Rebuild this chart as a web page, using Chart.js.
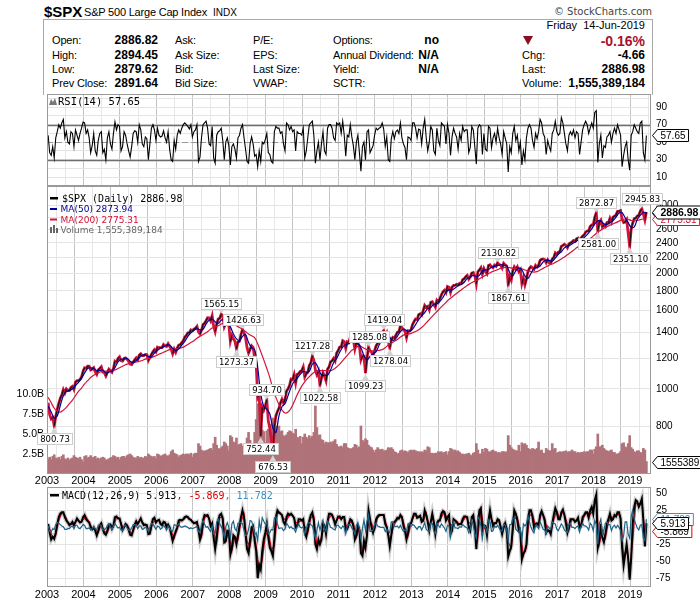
<!DOCTYPE html>
<html><head><meta charset="utf-8">
<script src="https://cdn.jsdelivr.net/npm/chart.js@4.4.1/dist/chart.umd.min.js"></script>
<style>
html,body{margin:0;padding:0;background:#fff;}
body{width:700px;height:603px;position:relative;overflow:hidden;font-family:"Liberation Sans",Arial,sans-serif;color:#000;}
canvas{position:absolute;left:0;}
</style></head><body>
<div style="position:absolute;left:43px;top:19px;width:608px;height:75px;border:1px solid #aaa;border-bottom:none;"></div>
<div style="position:absolute;left:523px;top:36px;width:0;height:0;border-left:5px solid transparent;border-right:5px solid transparent;border-top:9px solid #8b0d1f;"></div>
<canvas id="rsi" width="700" height="92" style="top:94px"></canvas>
<canvas id="price" width="700" height="302" style="top:186px"></canvas>
<canvas id="macd" width="700" height="116" style="top:487px"></canvas>
<script>
// ---------- DATA (semi-monthly: mid-month and month-end, Jan 2003 .. 14 Jun 2019) ----------
const yearLabels = ['2003','2004','2005','2006','2007','2008','2009','2010','2011','2012','2013','2014','2015','2016','2017','2018','2019'];

const price = [
920,856,835,841,800.73,848,885,916,945,964,995,975,1000,990,990,1008,1015,996,1040,1050,1050,1058,1075,1112,
1135,1131,1145,1145,1120,1126,1135,1107,1090,1121,1130,1141,1105,1102,1080,1104,1125,1115,1105,1130,1180,1174,1200,1212,
1185,1181,1200,1204,1195,1180,1160,1157,1175,1191,1205,1191,1225,1234,1220,1220,1230,1229,1185,1207,1230,1249,1265,1248,
1285,1280,1280,1281,1305,1295,1290,1311,1290,1270,1235,1270,1245,1277,1300,1304,1320,1336,1365,1378,1400,1401,1425,1418,
1430,1438,1455,1407,1390,1421,1470,1482,1505,1531,1530,1503,1550,1455,1410,1474,1520,1527,1565.15,1549,1450,1481,1480,1468,
1330,1378,1350,1330,1273.37,1323,1330,1386,1426.63,1400,1360,1280,1240,1267,1295,1283,1200,1166,950,969,752.44,896,880,903,
934.70,826,790,735,676.53,798,850,873,890,919,940,919,940,987,1000,1021,1060,1057,1090,1036,1090,1096,1110,1115,
1140,1074,1095,1104,1150,1169,1217.28,1187,1120,1089,1110,1022.58,1065,1102,1080,1049,1125,1141,1175,1183,1200,1181,1240,1258,
1285,1286,1335,1327,1275,1326,1320,1364,1340,1345,1270,1321,1315,1292,1190,1219,1215,1099.23,1200,1285.08,1255,1247,1220,1258,
1295,1312,1350,1366,1400,1419.04,1370,1398,1330,1278.04,1340,1362,1355,1379,1405,1407,1460,1441,1430,1412,1360,1416,1415,1426,
1470,1498,1520,1515,1560,1569,1555,1598,1650,1631,1640,1606,1680,1686,1660,1633,1700,1682,1720,1757,1790,1806,1780,1848,
1840,1783,1840,1859,1860,1872,1865,1884,1880,1924,1935,1960,1975,1931,1955,2003,2010,1972,1880,2018,2040,2068,1990,2059,
2020,1995,2095,2105,2080,2068,2100,2086,2130.82,2107,2100,2063,2125,2104,2090,1867.61,1960,1920,2030,2079,2050,2080,2020,2044,
1880,1940,1865,1932,2020,2060,2080,2065,2050,2097,2075,2099,2160,2174,2180,2171,2130,2168,2130,2126,2180,2199,2260,2239,
2270,2279,2350,2364,2380,2363,2330,2384,2400,2412,2435,2423,2460,2470,2430,2472,2500,2519,2560,2575,2580,2648,2675,2674,
2800,2872.87,2581.00,2714,2750,2641,2670,2648,2710,2705,2780,2718,2800,2816,2840,2902,2905,2914,2770,2711,2720,2760,2545,2351.10,
2610,2704,2775,2784,2820,2834,2905,2945.83,2850,2752,2886.98];

// monthly (mid-month) moving averages
const ma50 = [
900,870,840,850,905,960,985,990,1000,1020,1040,1065,
1100,1130,1135,1130,1115,1115,1120,1100,1105,1115,1135,1175,
1195,1195,1200,1180,1170,1185,1205,1225,1225,1215,1210,1240,
1260,1275,1285,1300,1300,1275,1260,1270,1300,1330,1370,1400,
1420,1435,1425,1430,1475,1510,1520,1495,1480,1510,1510,1480,
1450,1390,1350,1335,1370,1385,1320,1280,1265,1140,970,900,
885,860,790,770,850,900,915,960,1010,1045,1065,1090,
1110,1105,1110,1160,1170,1130,1085,1085,1085,1120,1170,1200,
1245,1285,1305,1310,1330,1320,1310,1280,1220,1190,1215,1235,
1250,1300,1350,1385,1385,1345,1340,1370,1410,1430,1420,1410,
1430,1470,1515,1550,1580,1620,1630,1660,1665,1690,1730,1785,
1810,1810,1830,1855,1870,1895,1940,1955,1975,1960,1975,2030,
2040,2045,2075,2085,2095,2105,2100,2090,2010,1970,2030,2065,
2040,1970,1940,2000,2060,2070,2090,2140,2165,2160,2150,2190,
2240,2275,2330,2355,2370,2400,2425,2450,2460,2500,2550,2610,
2690,2740,2735,2690,2680,2710,2740,2800,2870,2875,2790,2710,
2630,2640,2760,2830,2880,2873.94];

const ma200 = [
950,920,890,875,870,880,895,915,935,960,985,1005,
1030,1050,1070,1085,1095,1105,1110,1112,1115,1118,1120,1130,
1140,1150,1160,1165,1170,1175,1180,1185,1195,1200,1205,1215,
1225,1235,1245,1255,1265,1270,1272,1275,1280,1290,1305,1320,
1335,1355,1370,1385,1400,1420,1440,1450,1460,1475,1485,1490,
1485,1475,1460,1445,1430,1410,1390,1375,1360,1310,1250,1190,
1130,1070,1000,950,910,880,865,870,890,925,965,1000,
1030,1055,1075,1095,1110,1115,1115,1115,1115,1115,1125,1140,
1160,1185,1210,1235,1260,1275,1290,1290,1275,1265,1260,1255,
1255,1260,1265,1280,1300,1315,1330,1345,1365,1380,1385,1390,
1400,1410,1425,1445,1470,1500,1530,1560,1590,1620,1650,1680,
1710,1735,1760,1785,1810,1835,1860,1880,1900,1915,1935,1955,
1975,1995,2015,2030,2045,2060,2070,2075,2070,2060,2060,2060,
2055,2040,2030,2020,2015,2020,2040,2060,2080,2100,2115,2135,
2155,2180,2205,2235,2265,2295,2330,2360,2390,2420,2450,2480,
2520,2560,2590,2620,2645,2670,2690,2710,2735,2760,2770,2765,
2745,2740,2745,2760,2770,2775.31];

// volume, billions of shares (semi-monthly)
const volumeB = [
1.9,2.1,1.8,2.2,2.4,2.0,1.9,2.1,1.8,2.2,2.4,1.9,1.8,2.0,1.7,1.9,2.0,2.3,2.1,2.0,1.9,2.1,1.8,1.5,
2.2,2.3,2.0,2.1,2.3,2.0,2.1,2.2,1.9,2.0,1.8,2.0,2.1,2.0,1.7,1.8,1.9,2.0,2.1,2.3,2.2,2.0,2.1,1.8,
2.1,2.2,2.2,2.0,2.3,2.4,2.5,2.3,2.1,2.0,2.0,2.2,2.0,2.1,2.0,2.0,2.2,2.1,2.5,2.3,2.2,2.1,2.2,1.9,
2.5,2.4,2.2,2.3,2.4,2.5,2.3,2.2,2.4,2.8,3.0,2.6,2.5,2.4,2.1,2.3,2.4,2.5,2.4,2.5,2.5,2.4,2.6,2.1,
2.5,2.6,2.6,3.8,3.5,3.0,2.8,2.9,2.9,3.0,3.1,3.2,3.0,3.8,4.6,3.6,3.2,3.1,3.3,3.5,4.0,3.8,3.5,2.9,
4.8,4.6,4.0,3.9,4.5,3.6,3.7,3.8,3.5,3.4,3.8,4.5,5.2,4.2,3.7,3.6,5.2,6.8,8.8,6.5,7.2,5.5,5.3,3.9,
5.4,5.6,5.5,6.2,7.0,6.2,6.0,5.8,6.0,5.3,5.4,4.8,4.7,4.9,5.2,5.4,5.3,5.1,5.0,5.6,4.6,4.5,4.7,3.8,
4.6,5.0,4.6,4.4,4.8,4.5,4.7,5.2,8.5,5.8,4.8,4.9,4.3,4.2,3.8,4.0,3.9,3.9,4.0,3.9,4.1,4.3,3.7,3.4,
3.4,3.5,3.3,3.8,3.8,3.3,3.2,3.1,3.2,3.3,3.7,3.6,3.2,3.4,6.0,4.2,4.0,4.4,4.2,3.6,3.4,3.3,3.0,2.7,
3.0,3.3,3.1,3.0,3.1,2.9,2.9,3.0,3.3,3.2,3.3,3.1,2.8,2.7,2.5,2.6,2.9,3.0,2.8,2.9,2.8,2.6,2.9,3.0,
2.9,3.0,2.9,2.8,2.8,2.7,2.8,2.7,3.0,2.9,3.4,3.3,2.6,2.6,2.5,2.6,2.6,2.8,2.7,2.8,2.6,2.7,2.8,2.4,
2.8,3.2,3.1,2.9,3.0,2.8,2.9,2.7,2.5,2.5,2.4,2.5,2.5,2.6,2.4,2.3,2.6,2.7,3.8,3.0,2.5,2.5,3.1,2.7,
3.2,3.1,2.8,2.7,2.9,3.0,2.8,2.8,2.6,2.7,2.6,2.8,2.8,2.7,2.8,4.8,3.6,3.3,3.1,3.0,2.9,2.9,3.6,2.8,
3.9,3.7,3.8,3.6,3.2,3.1,3.0,3.2,3.1,3.0,3.2,4.0,2.9,3.0,2.6,2.6,3.2,3.0,2.9,2.9,3.8,3.1,3.2,2.6,
2.7,2.8,2.7,2.8,2.8,2.9,2.7,2.8,2.8,3.0,2.8,2.8,2.6,2.7,2.6,2.7,2.7,2.8,2.7,2.8,2.8,3.0,3.0,2.5,
3.1,3.4,5.0,3.4,3.4,3.6,3.2,3.0,2.9,2.8,2.9,3.0,2.7,2.7,2.5,2.5,2.6,2.8,3.8,3.9,3.4,3.3,3.8,4.8,
3.3,3.1,2.8,2.7,2.9,2.9,2.7,2.6,3.2,3.0,1.555389184];

const rsi = [
58,38,35,45,32,55,62,70,66,72,76,55,62,50,48,62,60,45,64,58,52,60,66,73,
72,60,64,55,38,46,60,40,35,52,60,62,38,42,30,55,62,48,42,60,73,64,70,68,
40,45,62,58,48,40,33,45,60,63,62,50,70,64,48,45,56,54,30,48,66,70,64,52,
66,58,56,57,63,55,50,62,42,30,28,52,42,58,64,60,66,70,72,70,68,65,70,56,
62,64,70,28,33,55,70,72,74,66,48,46,68,32,26,58,62,63,66,52,30,50,55,46,
24,45,48,42,32,55,58,66,70,55,42,28,26,48,56,48,34,36,22,40,28,50,48,53,
60,38,36,28,26,62,68,66,66,60,62,48,40,72,70,64,68,62,64,40,62,60,60,58,
66,32,40,55,70,72,74,58,26,40,50,30,48,62,40,36,66,70,70,66,55,52,72,70,
72,60,74,58,34,58,56,70,56,46,30,50,58,38,17,45,50,30,62,64,38,42,46,58,
66,64,66,67,72,65,45,56,30,28,54,62,54,62,64,60,72,55,48,44,30,56,55,52,
72,72,66,55,65,64,48,66,76,55,40,50,68,64,40,36,66,52,46,72,70,68,48,70,
60,35,56,66,60,56,42,60,52,68,62,64,64,38,44,68,64,45,25,66,70,68,36,60,
42,40,68,66,44,55,60,50,66,55,48,36,62,55,48,16,45,38,60,68,52,58,40,50,
24,40,30,55,66,70,66,52,44,60,54,62,76,72,60,56,36,52,45,40,60,64,74,62,
58,60,78,72,60,48,40,58,62,58,64,55,62,60,36,50,64,70,74,70,60,66,72,66,
84,86,27,48,58,32,46,44,56,58,62,50,60,66,60,70,64,58,22,35,45,50,30,18,
58,62,70,66,62,60,72,74,38,30,57.65];

const macd = [
5,-8,-18,-14,-17,-8,5,15,20,22,22,15,10,7,3,5,8,3,8,13,10,7,8,15,
18,12,9,7,0,-3,0,-5,-12,-5,3,6,-3,-9,-11,-5,4,4,-2,3,15,16,13,13,
5,-4,0,5,3,-4,-11,-12,-4,4,9,5,9,13,7,3,4,3,-10,-9,3,12,14,7,
10,11,5,3,8,7,0,4,0,-10,-20,-12,-6,0,10,11,10,12,15,16,15,12,11,8,
6,7,8,-4,-18,-10,10,18,17,18,13,2,6,-15,-32,-15,10,18,20,12,-22,-20,-5,-6,
-40,-30,-12,-15,-25,-12,2,15,25,15,-10,-32,-38,-18,0,2,-20,-35,-75,-55,-62,-35,-18,-8,
5,-15,-30,-35,-42,-15,15,25,22,20,18,8,4,15,20,18,20,17,14,0,2,12,12,10,
12,-8,-14,-3,10,18,22,10,-25,-32,-18,-25,-18,5,3,-10,8,20,20,18,12,4,10,16,
16,12,15,15,-5,-2,5,12,10,2,-18,-12,2,-4,-38,-42,-20,-30,-12,25,12,0,-8,0,
12,16,18,18,18,18,5,0,-12,-28,-12,5,8,10,14,13,18,15,2,-5,-18,-8,5,6,
14,20,20,14,15,17,8,10,25,18,8,-5,8,20,8,-10,5,10,10,20,24,22,10,15,
18,-10,-5,12,10,8,4,5,5,12,16,16,15,0,-5,15,18,0,-32,0,25,28,-5,3,
2,-12,10,25,12,2,6,6,12,10,0,-10,0,6,-2,-43,-35,-28,0,25,20,10,-5,-8,
-47,-38,-35,-25,10,25,25,15,0,5,6,3,18,24,18,10,-8,-4,-5,-10,5,18,28,22,
12,12,22,26,18,6,-8,0,12,12,12,8,10,14,0,2,15,18,22,22,14,25,30,20,
40,48,-30,-20,5,-15,-22,-10,5,12,20,10,12,18,16,22,22,12,-30,-56,-40,-25,-45,-77,
-45,5,30,40,38,30,35,42,10,-28,5.913];

// monthly (month-end) signal line
const signal = [
-2,-16,-12,10,21,18,8,4,5,10,8,11,
15,8,-2,-2,-8,4,-6,-8,4,0,15,13,
0,2,0,-11,0,7,11,5,3,-9,7,10,
10,4,7,2,-5,-16,-3,10,11,15,13,9,
6,2,-14,14,17,7,-4,-23,14,16,-21,-5,
-35,-13,-18,8,20,-21,-28,1,-27,-65,-48,-13,
-5,-32,-28,20,21,13,10,19,18,7,7,11,
2,-8,14,16,-28,-21,-6,-3,14,19,8,13,
14,15,-3,8,6,-15,-1,-40,-25,6,6,-4,
14,18,18,2,-20,-3,9,13,16,-1,-13,5,
17,17,16,9,21,1,14,-1,7,15,23,12,
4,3,9,4,8,16,7,5,9,-16,26,-1,
-5,17,7,6,11,-5,3,-22,-31,12,15,-6,
-42,-30,17,20,2,4,21,14,-6,-7,11,25,
12,24,12,-4,12,10,12,1,16,22,19,25,
44,-25,-5,-16,8,15,15,19,17,-43,-32,-61,
-20,35,34,38,-9,-5.869];

const histogram = [
2,-6,-7,-2,-3,4,7,6,4,2,1,-3,-3,-2,-2,1,2,-2,3,3,-1,-2,1,4,
3,-2,-2,-1,-4,-2,1,-2,-4,3,4,2,-4,-3,-2,3,5,1,-3,2,6,2,-1,0,
-4,-5,2,3,-1,-4,-4,-1,4,4,3,-2,2,2,-3,-2,0,-1,-6,0,6,5,1,-3,
2,1,-3,-1,3,0,-4,2,-2,-5,-6,4,3,3,5,1,0,1,2,1,0,-2,-1,-2,
-1,0,1,-6,-8,4,10,5,0,1,-3,-6,2,-10,-9,8,12,5,1,-4,-15,1,7,0,
-15,5,9,-2,-5,6,7,7,5,-5,-12,-11,-3,10,9,1,-11,-8,-20,10,-4,14,9,5,
7,-10,-8,-3,-4,14,15,5,-2,-1,-1,-5,-2,6,3,-1,1,-2,-2,-7,1,5,0,-1,
1,-10,-3,6,7,4,2,-6,-17,-4,7,-4,4,11,-1,-6,9,6,0,-1,-3,-4,3,3,
0,-2,2,0,-10,2,4,4,-1,-4,-10,3,7,-3,-17,-2,11,-5,9,18,-6,-6,-4,4,
6,2,1,0,0,0,-6,-3,-6,-8,8,8,2,1,2,-1,3,-2,-6,-4,-6,5,6,1,
4,3,0,-3,1,1,-4,1,7,-3,-5,-6,6,6,-6,-9,7,3,0,5,2,-1,-6,3,
2,-14,3,8,-1,-1,-2,1,0,4,2,0,-1,-8,-3,10,2,-9,-16,16,12,2,-16,4,
0,-7,11,8,-6,-5,2,0,3,-1,-5,-5,5,3,-4,-20,4,4,14,12,-3,-5,-8,-2,
-20,5,2,5,17,8,0,-5,-8,3,1,-2,8,3,-3,-4,-9,2,-1,-3,8,6,5,-3,
-5,0,5,2,-4,-6,-7,4,6,0,0,-2,1,2,-7,1,6,2,2,0,-4,6,3,-5,
10,4,-25,5,12,-10,-4,6,8,4,4,-5,1,3,-1,3,0,-5,-20,-13,8,8,-10,-16,
16,25,12,5,-1,-4,3,4,-16,-19,11.782];

// axis ticks and reference levels
const priceTicks = [800,1000,1200,1400,1600,1800,2000,2200,2400,2600,2800,3000];
const volumeTicks = [2.5,5,7.5,10];
const rsiGrid = [0,10,20,30,40,50,60,70,80,90,100];
const rsiTickLabels = [10,30,50,70,90];
const rsiLevels = [30,50,70];
const macdTicks = [-75,-50,-25,0,25,50];

// annotated turning points (indices into price) and label side
const annIdx = [4,114,124,128,140,144,148,174,179,209,211,221,225,296,303,361,362,383,391];
const annPos = ['below','above','below','above','below','above','below','above','below','below','above','above','below','above','below','above','below','below','above'];

// ---------- header text ----------
const SANS = '"Liberation Sans", Arial, sans-serif';
const MONO = '"DejaVu Sans Mono", monospace';
const DJV = '"DejaVu Sans", sans-serif';
function txt(s, x, base, o) {
  o = o || {};
  const d = document.createElement('div');
  const size = o.size || 11;
  d.textContent = s;
  d.style.cssText = 'position:absolute;white-space:nowrap;line-height:1;font-size:' + size + 'px;font-family:' + (o.fam || SANS) +
    ';font-weight:' + (o.bold ? 'bold' : 'normal') + ';color:' + (o.color || '#000') + ';top:' + (base - 0.8465 * size) + 'px;' +
    (o.right ? 'right:' + (700 - x) + 'px;' : 'left:' + x + 'px;') + (o.ls ? 'letter-spacing:' + o.ls + 'px;' : '');
  document.body.appendChild(d);
}
txt('$SPX', 44, 16.7, {size:15, bold:true});
txt('S&P 500 Large Cap Index', 84, 16.7, {size:11, ls:-0.2});
txt('INDX', 213, 16.7, {size:10});
txt('\u00A9 StockCharts.com', 652, 15.5, {size:10, fam:DJV, right:true, color:'#444'});
txt('Friday\u00A0\u00A014-Jun-2019', 645, 29.5, {right:true});
const rows = [44.3, 59, 73.5, 87.5];
[['Open:','2886.82','Ask:','P/E:','Options:','no'],
 ['High:','2894.45','Ask Size:','EPS:','Annual Dividend:','N/A'],
 ['Low:','2879.62','Bid:','Last Size:','Yield:','N/A'],
 ['Prev Close:','2891.64','Bid Size:','VWAP:','SCTR:','']].forEach((r, k) => {
  const b = rows[k];
  txt(r[0], 52, b, {ls:-0.15}); txt(r[1], 158, b, {bold:true, size:12, right:true});
  txt(r[2], 175, b, {ls:-0.15}); txt(r[3], 253, b, {ls:-0.15}); txt(r[4], 333, b, {ls:-0.15});
  if (r[5]) txt(r[5], 439, b, {bold:true, size:12, right:true});
});
txt('-0.16%', 645, 45.5, {bold:true, size:14, right:true, color:'#a8102e'});
txt('Chg:', 522, rows[1]); txt('-4.66', 645, rows[1], {bold:true, size:12, right:true});
txt('Last:', 522, rows[2]); txt('2886.98', 645, rows[2], {bold:true, size:12, right:true});
txt('Volume:', 522, rows[3]); txt('1,555,389,184', 645, rows[3], {bold:true, size:12, right:true});

// ---------- chart helpers ----------
const XMIN = 2003, XMAX = 2019.575;
const semiX = i => 2003 + (i + 1) / 24 - 0.01;
const LASTX = semiX(price.length - 1);
const midX = m => Math.min(2003 + (m + 0.5) / 12 - 0.01, LASTX);
const endX = m => Math.min(2003 + (m + 1) / 12 - 0.01, LASTX);
const semiPts = arr => arr.map((v, i) => ({x: semiX(i), y: v}));

function xAxis(show, h, pad) {
  return {
    type: 'linear', min: XMIN, max: XMAX, offset: false,
    afterBuildTicks(s) {
      const t = [];
      yearLabels.forEach(l => { const y = +l; t.push({value: y}); if (y + 0.5 < XMAX) t.push({value: y + 0.5}); });
      s.ticks = t;
    },
    afterFit(s) { s.height = h; s.paddingLeft = 0; s.paddingRight = 0; },
    grid: { drawTicks: false, color: c => (c.tick && Number.isInteger(c.tick.value)) ? '#c4c4c4' : '#e6e6e6' },
    border: { display: false },
    ticks: { display: show, autoSkip: false, maxRotation: 0, minRotation: 0, padding: pad || 0, color: '#000',
      font: { family: SANS, size: 11 },
      callback: v => { const k = yearLabels.indexOf(String(v)); return k >= 0 ? yearLabels[k] : ''; } }
  };
}
function fitY(w) { return function (s) { s.width = w; s.paddingTop = 0; s.paddingBottom = 0; }; }
function rightAxis(extra) {
  return Object.assign({
    position: 'right',
    afterFit: fitY(49),
    grid: { drawTicks: false, color: '#e4e4e4' },
    border: { display: false }
  }, extra);
}
const baseOpts = { responsive: false, animation: false, events: [], plugins: { legend: {display: false}, tooltip: {enabled: false} } };

const panelBorder = { id: 'panelBorder', afterDatasetsDraw(ch) {
  const a = ch.chartArea, c = ch.ctx; c.save(); c.strokeStyle = '#9a9a9a'; c.lineWidth = 1;
  c.strokeRect(Math.round(a.left) + 0.5, Math.round(a.top) + 0.5, Math.round(a.right - a.left) - 1, Math.round(a.bottom - a.top) - 1);
  c.restore(); } };

function tag(c, x, y, text, o) {
  c.save();
  c.font = (o.bold ? 'bold ' : '') + (o.size || 10) + 'px ' + SANS;
  const w = c.measureText(text).width + 6, h = o.h || 12;
  x = Math.round(x) + 0.5; y = Math.round(y) + 0.5;
  c.beginPath(); c.moveTo(x, y); c.lineTo(x + 5, y - h / 2); c.lineTo(x + 5 + w, y - h / 2);
  c.lineTo(x + 5 + w, y + h / 2); c.lineTo(x + 5, y + h / 2); c.closePath();
  c.fillStyle = '#fff'; c.fill(); c.lineWidth = 1; c.strokeStyle = o.border; c.stroke();
  c.fillStyle = o.color || '#000'; c.textBaseline = 'middle'; c.textAlign = 'left';
  c.fillText(text, x + 8, y + 0.5);
  c.restore();
}
const yTicks = (cb) => ({ padding: 5, autoSkip: false, color: '#000', font: { family: SANS, size: 10 }, callback: cb });

// ---------- RSI ----------
const rsiLast = rsi[rsi.length - 1];
new Chart(document.getElementById('rsi'), {
  type: 'line',
  data: { datasets: [{ data: semiPts(rsi), borderColor: '#000', borderWidth: 1.1, pointRadius: 0, tension: 0 }] },
  options: Object.assign({}, baseOpts, {
    layout: { padding: { left: 47, right: 0, top: 0, bottom: 0 } },
    scales: {
      x: xAxis(false, 0),
      y: rightAxis({ type: 'linear', min: 0, max: 105,
        afterBuildTicks(s) { s.ticks = rsiGrid.map(v => ({value: v})); },
        ticks: yTicks(v => rsiTickLabels.includes(v) ? String(v) : '') })
    }
  }),
  plugins: [panelBorder, {
    id: 'rsiExtras',
    beforeDatasetsDraw(ch) {
      const y = ch.scales.y, a = ch.chartArea, c = ch.ctx; c.save();
      rsiLevels.forEach(v => {
        const p = Math.round(y.getPixelForValue(v)) + 0.5;
        c.strokeStyle = v === 50 ? '#9a9a9a' : '#6e6e6e'; c.lineWidth = v === 50 ? 1 : 1.3;
        c.setLineDash(v === 50 ? [6, 3] : []);
        c.beginPath(); c.moveTo(a.left, p); c.lineTo(a.right, p); c.stroke();
      });
      c.restore();
    },
    afterDraw(ch) {
      const a = ch.chartArea, c = ch.ctx; c.save();
      c.fillStyle = '#777';
      c.beginPath(); c.moveTo(a.left + 2, a.top + 11); c.lineTo(a.left + 4, a.top + 5); c.lineTo(a.left + 6, a.top + 8);
      c.lineTo(a.left + 8, a.top + 4); c.lineTo(a.left + 10, a.top + 11); c.closePath(); c.fill();
      c.fillStyle = '#000'; c.font = '10.5px ' + MONO; c.textBaseline = 'alphabetic';
      c.fillText('RSI(14) ' + rsiLast.toFixed(2), a.left + 11, a.top + 11);
      c.restore();
      tag(c, a.right + 1, ch.scales.y.getPixelForValue(rsiLast), rsiLast.toFixed(2), { border: '#000' });
    }
  }]
});

// ---------- PRICE + VOLUME ----------
const priceLast = price[price.length - 1];
const ma50Last = ma50[ma50.length - 1], ma200Last = ma200[ma200.length - 1];
const volLast = volumeB[volumeB.length - 1];
const RED = '#d0143c', NAVY = '#000099';
new Chart(document.getElementById('price'), {
  type: 'line',
  data: { datasets: [
    { type: 'bar', data: semiPts(volumeB), yAxisID: 'yv', backgroundColor: '#b07379', barThickness: 2, borderWidth: 0, order: 10 },
    // price: red body with black strokes on up-moves
    { data: semiPts(price), yAxisID: 'y', borderColor: RED, borderWidth: 2.8, pointRadius: 0, tension: 0, order: 4 },
    { data: semiPts(price), yAxisID: 'y', borderColor: '#111', borderWidth: 1.1, pointRadius: 0, tension: 0, order: 3,
      segment: { borderColor: c => c.p1.parsed.y >= c.p0.parsed.y ? '#111' : 'rgba(0,0,0,0)' } },
    { data: ma200.map((v, m) => ({x: midX(m), y: v})), yAxisID: 'y', borderColor: RED, borderWidth: 1.2, pointRadius: 0, tension: 0.3, order: 2 },
    { data: ma50.map((v, m) => ({x: midX(m), y: v})), yAxisID: 'y', borderColor: NAVY, borderWidth: 1.2, pointRadius: 0, tension: 0.3, order: 1 }
  ] },
  options: Object.assign({}, baseOpts, {
    layout: { padding: 0 },
    scales: {
      x: xAxis(true, 14, 0),
      y: rightAxis({ type: 'logarithmic', min: 600, max: 3376,
        afterBuildTicks(s) { s.ticks = priceTicks.map(v => ({value: v})); },
        ticks: yTicks(v => String(v)) }),
      yv: { type: 'linear', position: 'left', min: 0, max: 36,
        afterBuildTicks(s) { s.ticks = volumeTicks.map(v => ({value: v})); },
        afterFit: fitY(47),
        grid: { display: false, drawTicks: false }, border: { display: false },
        ticks: { padding: 3, autoSkip: false, color: '#000', font: { family: SANS, size: 10.5 }, callback: v => v.toFixed(1) + 'B' } }
    }
  }),
  plugins: [panelBorder, {
    id: 'priceExtras',
    afterDraw(ch) {
      const a = ch.chartArea, c = ch.ctx, xs = ch.scales.x, ys = ch.scales.y;
      // annotations
      c.save();
      c.font = '8.5px ' + DJV;
      annIdx.forEach((i, k) => {
        const px = xs.getPixelForValue(semiX(i)), py = ys.getPixelForValue(price[i]);
        const t = price[i].toFixed(2), w = Math.round(c.measureText(t).width) + 5, h = 11;
        const bx = Math.round(px - w / 2) + 0.5;
        let by;
        c.fillStyle = '#d4d4d4';
        c.beginPath();
        if (annPos[k] === 'above') {
          by = Math.round(py - 5 - h) + 0.5;
          c.moveTo(px - 3.5, by + h); c.lineTo(px + 3.5, by + h); c.lineTo(px, py - 1);
        } else {
          by = Math.round(py + 7) + 0.5;
          c.moveTo(px - 3.5, by); c.lineTo(px + 3.5, by); c.lineTo(px, py + 1);
        }
        c.closePath(); c.fill();
        c.fillStyle = '#fff'; c.fillRect(bx, by, w, h);
        c.strokeStyle = '#cccccc'; c.lineWidth = 1; c.strokeRect(bx, by, w, h);
        c.fillStyle = '#000'; c.textBaseline = 'middle'; c.textAlign = 'center';
        c.fillText(t, bx + w / 2, by + h / 2 + 0.5);
      });
      c.restore();
      // legend
      c.save();
      const L = a.left, T = a.top;
      c.textAlign = 'left'; c.textBaseline = 'alphabetic';
      c.fillStyle = '#000'; c.fillRect(L + 3, T + 11, 8, 2.5);
      c.font = '10px ' + MONO; c.fillText('$SPX (Daily) ' + priceLast.toFixed(2), L + 15, T + 15.5);
      c.fillStyle = NAVY; c.fillRect(L + 3, T + 22, 7, 2);
      c.font = '9px ' + DJV; c.fillText('MA(50) ' + ma50Last.toFixed(2), L + 13.5, T + 26);
      c.fillStyle = RED; c.fillRect(L + 3, T + 32.5, 7, 2);
      c.fillText('MA(200) ' + ma200Last.toFixed(2), L + 13.5, T + 36.5);
      c.fillStyle = '#666';
      c.fillRect(L + 3, T + 41, 2, 6); c.fillRect(L + 6, T + 39, 2, 8); c.fillRect(L + 9, T + 42, 2, 5);
      c.fillText('Volume ' + Math.round(volLast * 1e9).toLocaleString('en-US'), L + 13.5, T + 47);
      c.restore();
      // right-hand value tags
      const tx = a.right + 1;
      tag(c, tx, ch.scales.yv.getPixelForValue(volLast), String(Math.round(volLast * 1e9)), { border: '#000' });
      tag(c, tx, ys.getPixelForValue(ma50Last), ma50Last.toFixed(2), { border: NAVY, color: NAVY });
      tag(c, tx, ys.getPixelForValue(ma200Last), ma200Last.toFixed(2), { border: RED, color: RED });
      tag(c, tx, ys.getPixelForValue(priceLast), priceLast.toFixed(2), { border: '#000', bold: true, size: 10.5, h: 13 });
    }
  }]
});

// ---------- MACD ----------
const macdLast = macd[macd.length - 1], sigLast = signal[signal.length - 1], histLast = histogram[histogram.length - 1];
new Chart(document.getElementById('macd'), {
  type: 'line',
  data: { datasets: [
    { data: semiPts(macd), borderColor: '#cfcfcf', borderWidth: 4.5, pointRadius: 0, tension: 0, order: 4 },
    { data: signal.map((v, m) => ({x: endX(m), y: v})), borderColor: '#e8001c', borderWidth: 1.2, pointRadius: 0, tension: 0, order: 3 },
    { data: semiPts(macd), borderColor: '#000', borderWidth: 2, pointRadius: 0, tension: 0, order: 2 },
    { data: semiPts(histogram), borderColor: '#1e6487', borderWidth: 1.2, pointRadius: 0, tension: 0, order: 1 }
  ] },
  options: Object.assign({}, baseOpts, {
    layout: { padding: { left: 47, right: 0, top: 0, bottom: 0 } },
    scales: {
      x: xAxis(true, 16, 1),
      y: rightAxis({ type: 'linear', min: -87.8, max: 59.3,
        afterBuildTicks(s) { s.ticks = macdTicks.map(v => ({value: v})); },
        ticks: yTicks(v => String(v)) })
    }
  }),
  plugins: [panelBorder, {
    id: 'macdExtras',
    afterDraw(ch) {
      const a = ch.chartArea, c = ch.ctx, ys = ch.scales.y;
      c.save();
      c.fillStyle = '#000'; c.fillRect(a.left + 3, a.top + 7, 9, 2.5);
      c.font = '10px ' + MONO; c.textBaseline = 'alphabetic'; c.textAlign = 'left';
      let x = a.left + 15; const b = a.top + 11.5;
      const parts = [['MACD(12,26,9) ' + macdLast.toFixed(3), '#000'], [', ' + sigLast.toFixed(3), '#e00000'], [', ' + histLast.toFixed(3), '#3a8fc5']];
      parts.forEach(p => { c.fillStyle = p[1]; c.fillText(p[0], x, b); x += c.measureText(p[0]).width; });
      c.restore();
      const tx = a.right + 1;
      tag(c, tx, ys.getPixelForValue(histLast), histLast.toFixed(3), { border: '#5b86a8', color: '#3a8fc5' });
      tag(c, tx, ys.getPixelForValue(sigLast), sigLast.toFixed(3), { border: '#e00000' });
      tag(c, tx, ys.getPixelForValue(macdLast), macdLast.toFixed(3), { border: '#000' });
    }
  }]
});
</script>
</body></html>
